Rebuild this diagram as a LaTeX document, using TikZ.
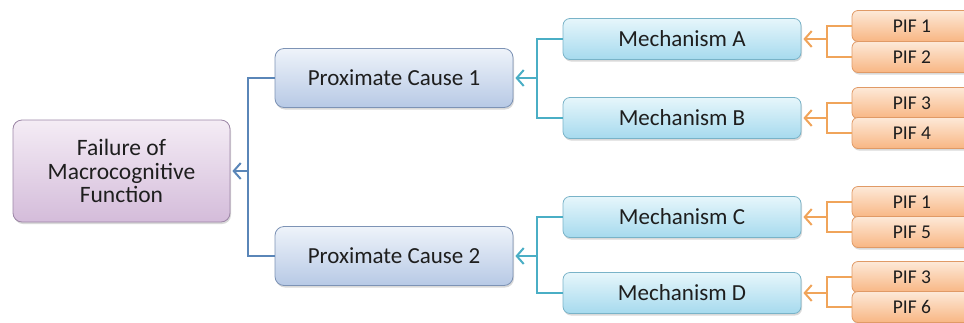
\documentclass[tikz,border=0pt]{standalone}
\usepackage{fontspec}
\setmainfont{Carlito}
\usetikzlibrary{arrows.meta,shadows}

\definecolor{txt}{HTML}{1E1E1E}
\definecolor{failtop}{HTML}{F4ECF5}
\definecolor{failbot}{HTML}{D4BCDA}
\definecolor{failedge}{HTML}{9C86A6}
\definecolor{pctop}{HTML}{EEF3FA}
\definecolor{pcbot}{HTML}{B7C9E5}
\definecolor{pcedge}{HTML}{7D93B5}
\definecolor{mechtop}{HTML}{E6F6FB}
\definecolor{mechbot}{HTML}{A6DAEE}
\definecolor{mechedge}{HTML}{79B3C8}
\definecolor{piftop}{HTML}{FDE9D8}
\definecolor{pifbot}{HTML}{F8B683}
\definecolor{pifedge}{HTML}{E09A66}
\definecolor{linkblue}{HTML}{5A86B8}
\definecolor{linkteal}{HTML}{4AAEC5}
\definecolor{linkorange}{HTML}{F0A45A}

\tikzset{
  box/.style={rounded corners=9pt, draw, line width=0.8pt, inner sep=0pt,
    align=center, text=txt,
    drop shadow={opacity=0.3, shadow xshift=1pt, shadow yshift=-2pt}},
  failbox/.style={box, top color=failtop, bottom color=failbot, draw=failedge,
    minimum width=217pt, minimum height=102pt,
    font=\fontsize{23.5}{23.5}\selectfont},
  causebox/.style={box, top color=pctop, bottom color=pcbot, draw=pcedge,
    minimum width=238pt, minimum height=59pt,
    font=\fontsize{23}{24}\selectfont},
  mechbox/.style={box, rounded corners=7pt, top color=mechtop, bottom color=mechbot,
    draw=mechedge, minimum width=238pt, minimum height=41pt,
    font=\fontsize{23}{24}\selectfont},
  pifbox/.style={box, rounded corners=6pt, top color=piftop, bottom color=pifbot,
    draw=pifedge, minimum width=120pt, minimum height=31pt,
    font=\fontsize{19.5}{21}\selectfont},
  link/.style={line width=1.1pt},
  tip/.style={shorten >=2pt, -{Straight Barb[length=7pt,width=16pt,line width=2pt]}}
}

\begin{document}
\begin{tikzpicture}[x=1pt,y=-1pt]
\useasboundingbox (0,0) rectangle (964,322);
\clip (0,0) rectangle (964,322);

% root and proximate causes
\node[failbox] (fail) at (121.5,171) {Failure of\\Macrocognitive\\Function};
\node[causebox] (pc1) at (394,78) {Proximate Cause 1};
\node[causebox] (pc2) at (394,256) {Proximate Cause 2};

% mechanisms
\node[mechbox] (ma) at (682,39) {Mechanism A};
\node[mechbox] (mb) at (682,118) {Mechanism B};
\node[mechbox] (mc) at (682,217) {Mechanism C};
\node[mechbox] (md) at (682,293) {Mechanism D};

% performance influencing factors
\node[pifbox] (p1) at (912,26) {PIF 1};
\node[pifbox] (p2) at (912,57) {PIF 2};
\node[pifbox] (p3) at (912,103) {PIF 3};
\node[pifbox] (p4) at (912,133) {PIF 4};
\node[pifbox] (p5) at (912,202) {PIF 1};
\node[pifbox] (p6) at (912,232) {PIF 5};
\node[pifbox] (p7) at (912,277) {PIF 3};
\node[pifbox] (p8) at (912,307) {PIF 6};

% junction points of the brackets
\coordinate (j0) at (248,171);
\coordinate (j1) at (537,78);
\coordinate (j2) at (537,256);
\coordinate (k1) at (827,39);
\coordinate (k2) at (827,118);
\coordinate (k3) at (827,217);
\coordinate (k4) at (827,293);

% causes -> failure
\draw[link, linkblue] (pc1.west) -| (j0) |- (pc2.west);
\draw[link, linkblue, tip] (j0) -- (fail.east);

% mechanisms -> causes
\draw[link, linkteal] (ma.west) -| (j1) |- (mb.west);
\draw[link, linkteal, tip] (j1) -- (pc1.east);
\draw[link, linkteal] (mc.west) -| (j2) |- (md.west);
\draw[link, linkteal, tip] (j2) -- (pc2.east);

% PIFs -> mechanisms
\draw[link, linkorange] (p1.west) -| (k1) |- (p2.west);
\draw[link, linkorange, tip] (k1) -- (ma.east);
\draw[link, linkorange] (p3.west) -| (k2) |- (p4.west);
\draw[link, linkorange, tip] (k2) -- (mb.east);
\draw[link, linkorange] (p5.west) -| (k3) |- (p6.west);
\draw[link, linkorange, tip] (k3) -- (mc.east);
\draw[link, linkorange] (p7.west) -| (k4) |- (p8.west);
\draw[link, linkorange, tip] (k4) -- (md.east);
\end{tikzpicture}
\end{document}
